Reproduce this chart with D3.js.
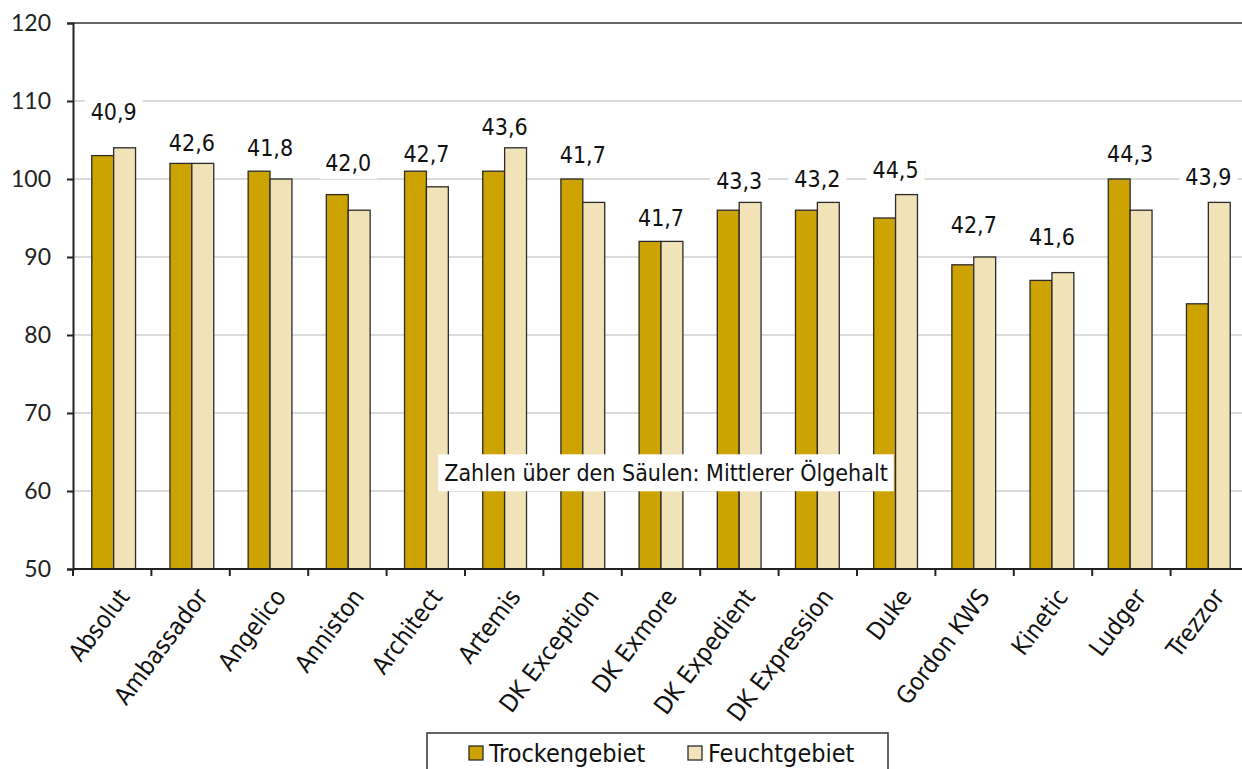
<!DOCTYPE html>
<html>
<head>
<meta charset="utf-8">
<script src="https://cdn.jsdelivr.net/npm/d3@7"></script>
<style>
  body { margin: 0; background: #fff; }
  svg { display: block; }
  .lbl { font-family: "DejaVu Sans Condensed", "DejaVu Sans", sans-serif; fill: #111; }
</style>
</head>
<body>
<div id="chart"></div>
<script>
// sorts, yield relative (two sites) and mean oil content shown above the columns
const sorten = ["Absolut", "Ambassador", "Angelico", "Anniston", "Architect", "Artemis",
  "DK Exception", "DK Exmore", "DK Expedient", "DK Expression", "Duke", "Gordon KWS",
  "Kinetic", "Ludger", "Trezzor"];
const trocken = [103, 102, 101, 98, 101, 101, 100, 92, 96, 96, 95, 89, 87, 100, 84];
const feucht  = [104, 102, 100, 96, 99, 104, 97, 92, 97, 97, 98, 90, 88, 96, 97];
const oelgehalt = ["40,9", "42,6", "41,8", "42,0", "42,7", "43,6", "41,7", "41,7",
  "43,3", "43,2", "44,5", "42,7", "41,6", "44,3", "43,9"];
// level (in axis units) where each oil label sits
const oelLevel = [108.6, 104.6, 104.0, 102.1, 103.3, 106.7, 103.1, 95.1,
  99.8, 100.0, 101.2, 94.1, 92.6, 103.3, 100.3];
const yTicks = [50, 60, 70, 80, 90, 100, 110, 120];
const serien = ["Trockengebiet", "Feuchtgebiet"];
const farben = ["#CCA300", "#F2E2B8"];

const W = 1242, H = 769;
const margin = {top: 23, right: -7, bottom: 200, left: 73};
const width = W - margin.left - margin.right,
      height = H - margin.top - margin.bottom;

const svg = d3.select("#chart").append("svg")
  .attr("width", W).attr("height", H);
const g = svg.append("g")
  .attr("transform", "translate(" + margin.left + "," + margin.top + ")");

const x = d3.scaleBand().domain(sorten).range([0, width])
  .paddingInner(0.44).paddingOuter(0.24);
const xs = d3.scaleBand().domain(serien).range([0, x.bandwidth()]);
const y = d3.scaleLinear().domain([50, 120]).range([height, 0]);
const step = width / sorten.length;

// gridlines
g.selectAll(".grid").data(yTicks.slice(1, -1)).enter().append("line")
  .attr("x1", 0).attr("x2", width)
  .attr("y1", d => y(d)).attr("y2", d => y(d))
  .attr("stroke", "#cfcfcf").attr("stroke-width", 1.5);

// white boxes behind oil labels (cover gridlines)
const lblG = g.append("g");
const lbls = lblG.selectAll("text").data(sorten).enter().append("text")
  .attr("class", "lbl")
  .attr("x", d => x(d) + x.bandwidth() / 2)
  .attr("y", (d, i) => y(oelLevel[i]))
  .attr("dy", "0.36em")
  .attr("text-anchor", "middle")
  .style("font-size", "23px")
  .text((d, i) => oelgehalt[i]);
lbls.each(function() {
  const b = this.getBBox();
  lblG.insert("rect", "text")
    .attr("x", b.x - 6).attr("y", b.y - 3)
    .attr("width", b.width + 12).attr("height", b.height + 6)
    .attr("fill", "#fff");
});

// top border of the plot area
g.append("line").attr("x1", 0).attr("x2", width).attr("y1", 0).attr("y2", 0)
  .attr("stroke", "#333").attr("stroke-width", 1.5);

// bars
const grp = g.selectAll(".sorte").data(sorten).enter().append("g")
  .attr("transform", d => "translate(" + x(d) + ",0)");
grp.selectAll("rect")
  .data((d, i) => [trocken[i], feucht[i]].map((v, k) => ({s: serien[k], v: v})))
  .enter().append("rect")
  .attr("x", d => xs(d.s))
  .attr("width", xs.bandwidth())
  .attr("y", d => y(d.v))
  .attr("height", d => y(50) - y(d.v))
  .attr("fill", (d, k) => farben[k])
  .attr("stroke", "#2b2b2b").attr("stroke-width", 1.3);

// y axis
const yAxis = g.append("g")
  .call(d3.axisLeft(y).tickValues(yTicks).tickSize(6).tickPadding(16));
yAxis.select(".domain").attr("stroke", "#222").attr("stroke-width", 2);
yAxis.selectAll(".tick line").attr("stroke", "#222").attr("stroke-width", 2);
yAxis.selectAll("text").attr("fill", "#222")
  .style("font-family", "Lato, 'Open Sans', sans-serif").style("font-size", "23px");

// x axis: ticks between categories
const xa = g.append("g").attr("transform", "translate(0," + height + ")");
xa.append("line").attr("x1", 0).attr("x2", width)
  .attr("stroke", "#222").attr("stroke-width", 2);
xa.selectAll(".tk").data(d3.range(sorten.length + 1)).enter().append("line")
  .attr("x1", i => i * step).attr("x2", i => i * step)
  .attr("y1", 0).attr("y2", 7)
  .attr("stroke", "#222").attr("stroke-width", 2);
xa.selectAll(".xl").data(sorten).enter().append("text")
  .attr("class", "lbl")
  .attr("text-anchor", "end")
  .style("font-size", "24.5px")
  .attr("transform", d => "translate(" + (x(d) + x.bandwidth() / 2 + 17) + ",28) rotate(-53)")
  .text(d => d);

// annotation
const note = svg.append("g");
const nt = note.append("text").attr("class", "lbl")
  .attr("x", 666).attr("y", 473).attr("dy", "0.36em")
  .attr("text-anchor", "middle").style("font-size", "23px")
  .text("Zahlen über den Säulen: Mittlerer Ölgehalt");
const nb = nt.node().getBBox();
note.insert("rect", "text")
  .attr("x", nb.x - 6).attr("y", nb.y - 5)
  .attr("width", nb.width + 12).attr("height", nb.height + 10)
  .attr("fill", "#fff");

// legend
const leg = svg.append("g").attr("transform", "translate(427,733)");
leg.append("rect").attr("width", 461).attr("height", 50)
  .attr("fill", "#fff").attr("stroke", "#333").attr("stroke-width", 1.5);
const items = [{s: serien[0], x: 42}, {s: serien[1], x: 261}];
items.forEach((it, k) => {
  leg.append("rect").attr("x", it.x).attr("y", 13).attr("width", 14).attr("height", 14)
    .attr("fill", farben[k]).attr("stroke", "#2b2b2b").attr("stroke-width", 1.3);
  leg.append("text").attr("class", "lbl")
    .attr("x", it.x + 20).attr("y", 20).attr("dy", "0.36em")
    .style("font-size", "25px").text(it.s);
});
</script>
</body>
</html>
